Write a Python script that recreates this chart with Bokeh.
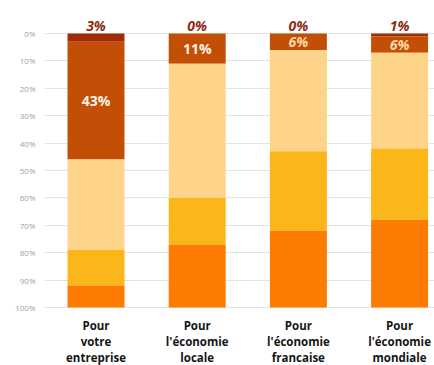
from bokeh.plotting import figure
from bokeh.models import Range1d, FixedTicker, PrintfTickFormatter, ColumnDataSource
from bokeh.core.properties import value
from bokeh.embed import file_html
from bokeh.resources import INLINE

# ---- data ----
categories = ["Pour\nvotre\nentreprise", "Pour\nl'économie\nlocale",
              "Pour\nl'économie\nfrancaise", "Pour\nl'économie\nmondiale"]
tres_negatif = [3, 0, 0, 1]
negatif = [43, 11, 6, 6]
neutre = [33, 49, 37, 35]
positif = [13, 17, 29, 26]
tres_positif = [8, 23, 28, 32]
y_ticks = [0, 10, 20, 30, 40, 50, 60, 70, 80, 90, 100]

series = [tres_negatif, negatif, neutre, positif, tres_positif]
colors = ["#a32a02", "#c24f05", "#fdd48a", "#fbb61a", "#fd7b01"]

xs = list(range(len(categories)))

p = figure(width=434, height=365,
           x_range=Range1d(-0.509, 3.345), y_range=Range1d(121.17, -12.04),
           output_backend="svg", toolbar_location=None,
           min_border_left=44, min_border_right=0, min_border_top=0, min_border_bottom=0)
p.outline_line_color = None
p.background_fill_color = "white"
p.xaxis.visible = False
p.xgrid.visible = False

p.yaxis.ticker = FixedTicker(ticks=y_ticks)
p.yaxis.formatter = PrintfTickFormatter(format="%d%%")
p.yaxis.axis_line_color = None
p.yaxis.major_tick_line_color = None
p.yaxis.major_tick_out = 0
p.yaxis.major_tick_in = 0
p.yaxis.minor_tick_line_color = None
p.yaxis.major_label_text_font = "Open Sans"
p.yaxis.major_label_text_font_size = "8px"
p.yaxis.major_label_text_color = "#a0a0a0"
p.yaxis.major_label_standoff = 9
p.ygrid.ticker = FixedTicker(ticks=y_ticks)
p.ygrid.grid_line_color = "#e4e4e4"

# stacked bars
bottoms = [0] * len(xs)
for vals, col in zip(series, colors):
    tops = [b + v for b, v in zip(bottoms, vals)]
    p.vbar(x=xs, bottom=bottoms, top=tops, width=0.563, fill_color=col, line_color=None)
    bottoms = tops

# labels above bars (first series)
top_src = ColumnDataSource(dict(x=xs, y=[0] * len(xs), t=[f"{v}%" for v in tres_negatif]))
p.text(x="x", y="y", text="t", source=top_src, text_align="center", text_baseline="bottom",
       y_offset=2, text_font=value("Open Sans"), text_font_size="14px",
       text_font_style="bold italic", text_color="#8e2d16")

# labels inside second segment
in_y = [a + b / 2 for a, b in zip(tres_negatif, negatif)]
in_colors = ["#fff4ea", "#fff4ea", "#fcd9a4", "#fcd9a4"]
in_styles = ["bold", "bold", "bold italic", "bold italic"]
for x, y, v, c, s in zip(xs, in_y, negatif, in_colors, in_styles):
    p.text(x=[x], y=[y], text=[f"{v}%"], text_align="center", text_baseline="middle",
           text_font=value("Open Sans"), text_font_size="14px",
           text_font_style=s, text_color=c)

# category labels
p.text(x=xs, y=[100] * len(xs), text=categories, text_align="center", text_baseline="top",
       y_offset=11, text_font=value("Open Sans"), text_font_size="11.5px",
       text_font_style="bold", text_color="#151515", text_line_height=1.05)

open("out.html", "w").write(file_html(p, INLINE))
